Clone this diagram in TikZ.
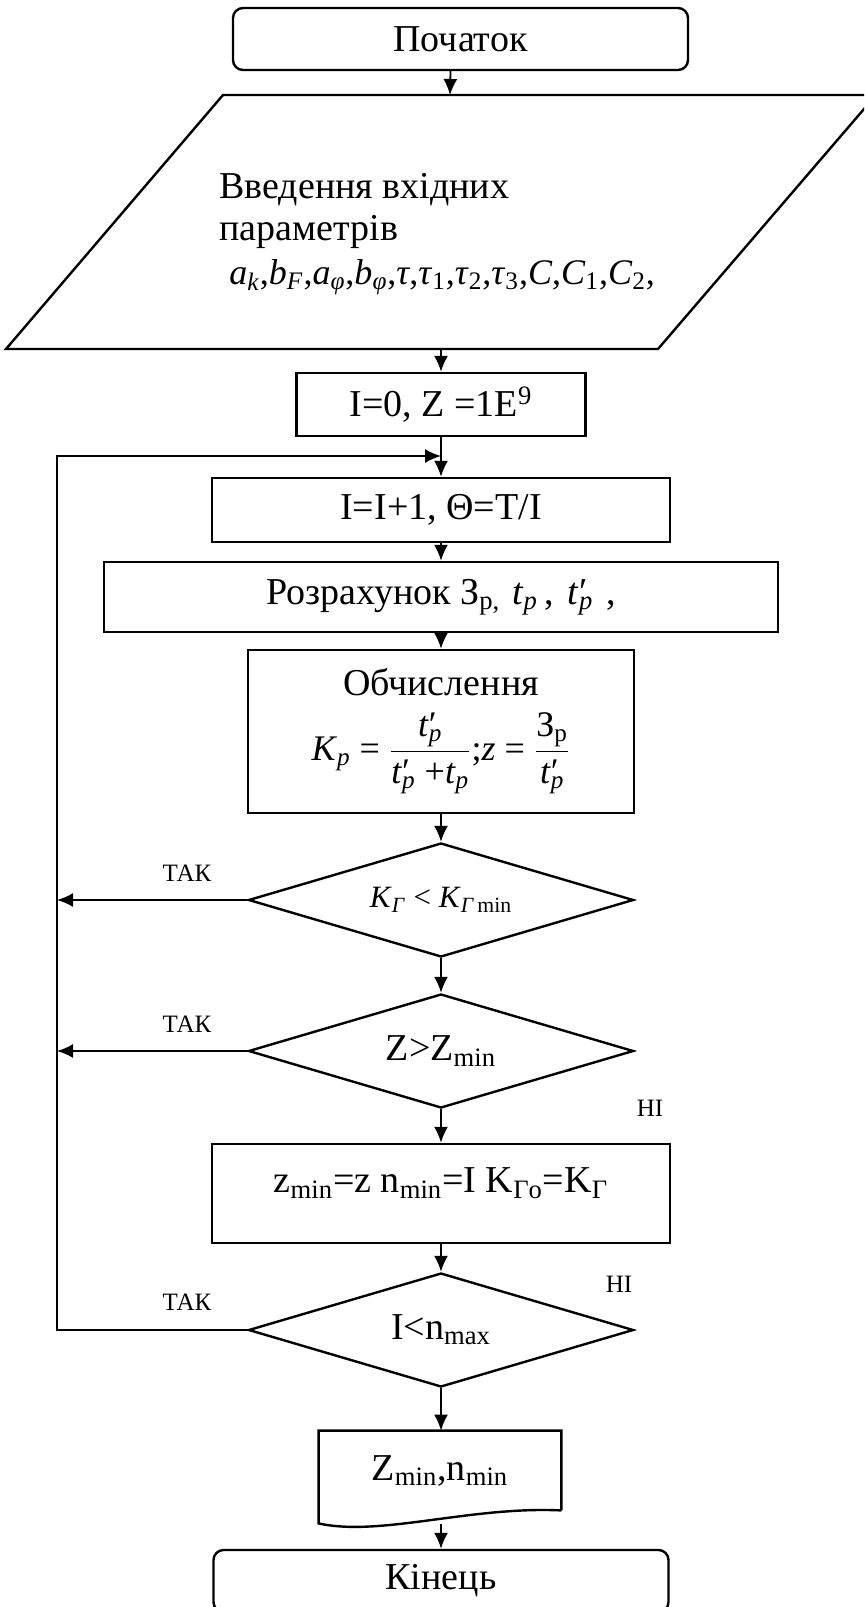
\documentclass[tikz,border=0pt]{standalone}
\usepackage{amsmath}
\usepackage{fontspec}
\setmainfont{Liberation Serif}
\usepackage{tikz}
\usetikzlibrary{shapes.geometric, arrows.meta}
\tikzstyle{arrow} = [line width=0.9pt,-{Latex[length=8pt,width=7pt]}]
\tikzstyle{startstop} = [rectangle, rounded corners=5pt, draw, line width=1.2pt, minimum width=227.5pt, minimum height=31pt, font=\fontsize{19}{22}\selectfont]
\tikzstyle{process} = [rectangle, draw, line width=1.2pt, font=\fontsize{19}{22}\selectfont]
\tikzstyle{decision} = [diamond, draw, line width=1.2pt, aspect=3.38, minimum width=192.5pt, minimum height=57pt, inner sep=0pt, font=\fontsize{19}{22}\selectfont]
\tikzstyle{answer} = [font=\fontsize{12.5}{14}\selectfont]
\newcommand{\iv}[1]{\textit{#1}}
\newcommand{\tpr}{\iv{t}\rlap{′}\textsubscript{\iv{p}}}

\begin{document}
\begin{tikzpicture}[x=0.5pt, y=-0.5pt]
        \useasboundingbox (0,0) rectangle (864,1607);
        \clip (0,0) rectangle (864,1607);
        \node[startstop] (start) at (460.5,39) {Початок};
        % input block
        \draw[line width=1.2pt] (223,95) -- (876,95) -- (658,349) -- (6,349) -- cycle;
        \coordinate (intop) at (450,95);
        \coordinate (inbot) at (441,349);
        \node[anchor=north west, inner sep=0pt, align=left, font=\fontsize{19}{21}\selectfont] (input) at (219,173)
            {Введення вхідних\\параметрів\\[1pt]\hspace{5pt}{\fontsize{18}{21}\selectfont\iv{a}\textsubscript{\iv{k}},\iv{b}\textsubscript{\iv{F}},\iv{a}\textsubscript{\iv{φ}},\iv{b}\textsubscript{\iv{φ}},\iv{τ},\iv{τ}\textsubscript{1},\iv{τ}\textsubscript{2},\iv{τ}\textsubscript{3},\iv{C},\iv{C}\textsubscript{1},\iv{C}\textsubscript{2},}};
        \node[process, minimum width=144.5pt, minimum height=31.5pt] (init) at (441,404.5) {I=0, Z =1E\textsuperscript{9}};
        \node[process, minimum width=229pt, minimum height=32pt] (incr) at (441,510) {I=I+1, Θ=T/I};
        \node[process, minimum width=337pt, minimum height=35pt] (calc) at (441,597)
            {Розрахунок З\textsubscript{р,}\hspace{6pt}\iv{t}\textsubscript{\iv{p}}\,,\hspace{7pt}\tpr\,\,,};
        \node[process, minimum width=193pt, minimum height=81.5pt, align=center] (eval) at (441,731.5)
            {Обчислення\\[7pt]{\fontsize{18}{21}\selectfont$\mbox{\iv{K}\textsubscript{\iv{p}}}\mbox{ = }\dfrac{\mbox{\tpr}}{\mbox{\tpr\ +\iv{t}\textsubscript{\iv{p}}}}\mbox{;\iv{z} = }\dfrac{\mbox{З\textsubscript{р}}}{\mbox{\tpr}}$}};
        \node[decision] (dec1) at (441,900) {{\fontsize{15.5}{18}\selectfont\iv{K}\textsubscript{\iv{Γ}} < \iv{K}\textsubscript{\iv{Γ}\,min}}};
        \node[decision] (dec2) at (441,1051) {Z>Z\textsubscript{min}};
        \node[process, minimum width=229pt, minimum height=49.5pt, text depth=13pt] (store) at (441,1193.5)
            {z\textsubscript{min}=z n\textsubscript{min}=I K\textsubscript{Γo}=K\textsubscript{Γ}};
        \node[decision] (dec3) at (441,1330) {I<n\textsubscript{max}};
        \node[rectangle, minimum width=121pt, minimum height=39.5pt, font=\fontsize{19}{22}\selectfont] (out) at (440,1470.5) {Z\textsubscript{min},n\textsubscript{min}};
        \draw[line width=1.2pt] (out.south east) -- (out.north east) -- (out.north west) -- ([yshift=-6.5pt]out.south west)
            .. controls (380,1537) and (470,1506) .. (out.south east);
        \coordinate (outbot) at (441,1524);
        \node[startstop] (end) at (441,1581) {Кінець};
        % labels
        \node[answer] (yes1) at (187,873) {ТАК};
        \node[answer] (yes2) at (187,1024) {ТАК};
        \node[answer] (yes3) at (187,1302) {ТАК};
        \node[answer] (no1) at (650,1108) {НІ};
        \node[answer] (no2) at (619,1284) {НІ};
        % connectors
        \coordinate (loop) at (57,456);
        \draw[arrow] ([xshift=-5pt]start.south) -- (intop);
        \draw[arrow] (inbot) -- (init.north);
        \draw[arrow] (init.south) -- (incr.north);
        \draw[arrow] (incr.south) -- (calc.north);
        \draw[arrow] (calc.south) -- (eval.north);
        \draw[arrow] (eval.south) -- (dec1.north);
        \draw[arrow] (dec1.south) -- (dec2.north);
        \draw[arrow] (dec2.south) -- (store.north);
        \draw[arrow] (store.south) -- (dec3.north);
        \draw[arrow] (dec3.south) -- (dec3.south |- out.north);
        \draw[arrow] (outbot) -- (end.north);
        \draw[arrow] (dec1.west) -- (dec1.west -| loop);
        \draw[arrow] (dec2.west) -- (dec2.west -| loop);
        \draw[arrow] (dec3.west) -| (loop) -- (loop -| incr.north);
    \end{tikzpicture}
\end{document}
